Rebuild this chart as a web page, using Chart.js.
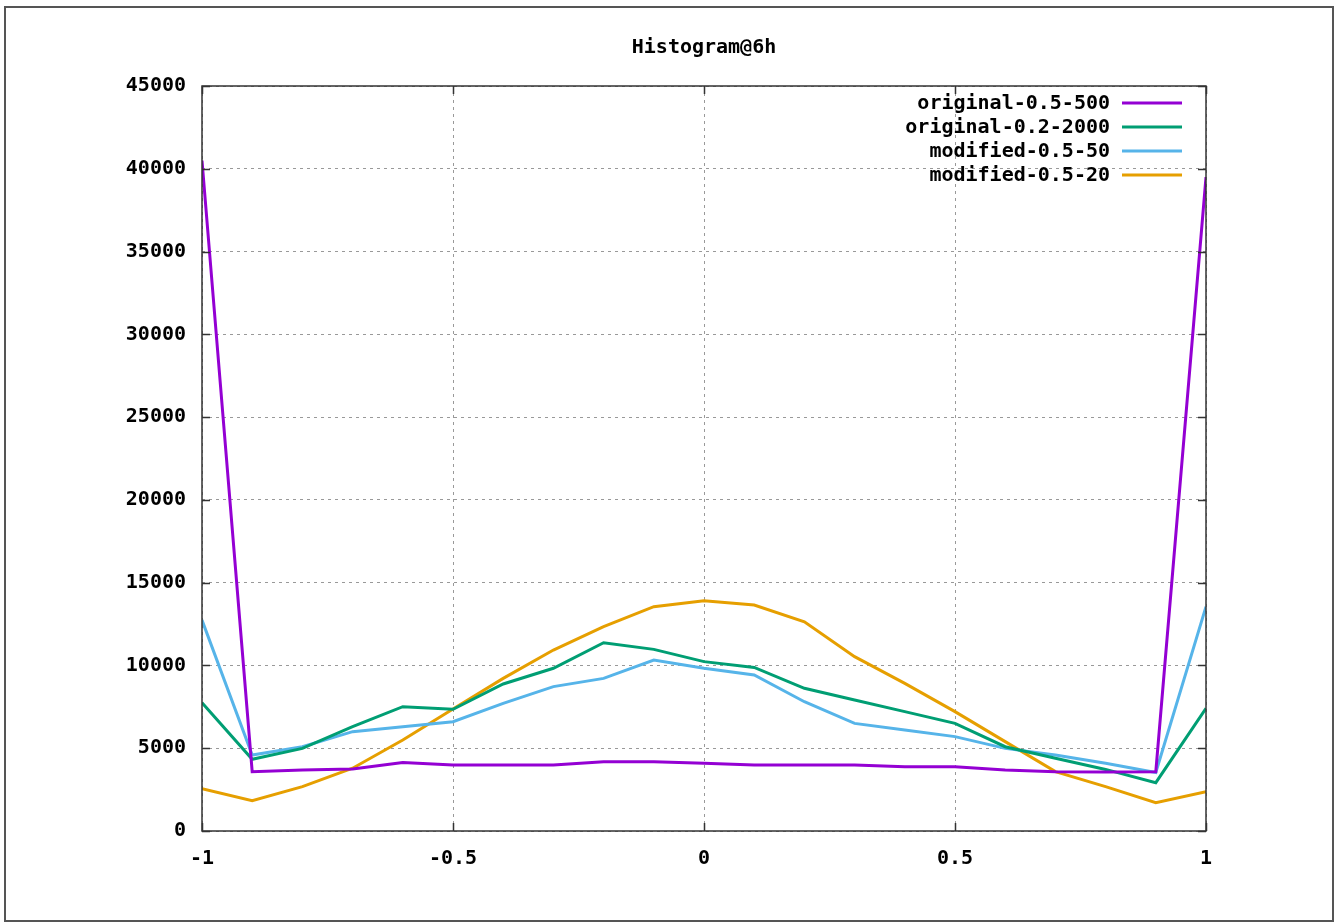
<!DOCTYPE html>
<html>
<head>
<meta charset="utf-8">
<script src="https://cdn.jsdelivr.net/npm/chart.js@4"></script>
<style>
  html, body { margin: 0; padding: 0; background: #fff; }
  #wrap { width: 1335px; height: 923px; }
</style>
</head>
<body>
<div id="wrap"><canvas id="histChart" width="1335" height="923"></canvas></div>
<script>
const xs = [-1, -0.9, -0.8, -0.7, -0.6, -0.5, -0.4, -0.3, -0.2, -0.1, 0, 0.1, 0.2, 0.3, 0.4, 0.5, 0.6, 0.7, 0.8, 0.9, 1];

const original05_500 = [40500, 3580, 3680, 3740, 4130, 3990, 3990, 3990, 4190, 4190, 4090, 3990, 3990, 3990, 3880, 3880, 3680, 3580, 3570, 3580, 39500];
const original02_2000 = [7750, 4330, 4990, 6300, 7510, 7350, 8880, 9830, 11370, 10970, 10230, 9880, 8620, 7910, 7210, 6500, 5090, 4390, 3720, 2920, 7410];
const modified05_50 = [12740, 4590, 5090, 6000, 6300, 6600, 7710, 8720, 9220, 10330, 9830, 9420, 7810, 6500, 6100, 5700, 4990, 4590, 4090, 3530, 13550];
const modified05_20 = [2560, 1830, 2680, 3790, 5500, 7370, 9220, 10930, 12340, 13550, 13910, 13650, 12640, 10530, 8920, 7210, 5400, 3590, 2680, 1710, 2380];

const seriesNames = ['original-0.5-500', 'original-0.2-2000', 'modified-0.5-50', 'modified-0.5-20'];
const seriesColors = ['#9400d3', '#009e73', '#56b4e9', '#e69f00'];
const xTicks = [-1, -0.5, 0, 0.5, 1];

const FONT = '"DejaVu Sans Mono", "Liberation Mono", monospace';

function pts(vals) {
  return xs.map((x, i) => ({ x: x, y: vals[i] }));
}

const gnuplotDecor = {
  id: 'gnuplotDecor',
  beforeDraw(chart) {
    const c = chart.ctx;
    c.save();
    c.fillStyle = '#fff';
    c.fillRect(0, 0, chart.width, chart.height);
    c.strokeStyle = '#555';
    c.lineWidth = 2;
    c.strokeRect(5, 7, chart.width - 7, chart.height - 9);
    c.restore();
  },
  afterDatasetsDraw(chart) {
    const c = chart.ctx;
    const a = chart.chartArea;
    const xS = chart.scales.x, yS = chart.scales.y;
    c.save();
    // border box
    c.strokeStyle = '#333';
    c.lineWidth = 1.5;
    c.strokeRect(a.left, a.top, a.right - a.left, a.bottom - a.top);
    // inward ticks, mirrored
    c.beginPath();
    xTicks.forEach(v => {
      const px = Math.round(xS.getPixelForValue(v)) + 0.5;
      c.moveTo(px, a.bottom); c.lineTo(px, a.bottom - 8);
      c.moveTo(px, a.top); c.lineTo(px, a.top + 8);
    });
    yS.ticks.forEach(t => {
      const py = Math.round(yS.getPixelForValue(t.value)) + 0.5;
      c.moveTo(a.left, py); c.lineTo(a.left + 8, py);
      c.moveTo(a.right, py); c.lineTo(a.right - 8, py);
    });
    c.stroke();
    // title
    c.fillStyle = '#000';
    c.font = 'bold 20px ' + FONT;
    c.textAlign = 'center';
    c.textBaseline = 'middle';
    c.fillText('Histogram@6h', (a.left + a.right) / 2, 48);
    // legend, gnuplot style: text right aligned, sample line on the right
    c.font = 'bold 20px ' + FONT;
    c.textAlign = 'right';
    chart.data.datasets.forEach((ds, i) => {
      const y = 103 + i * 24;
      c.fillStyle = '#000';
      c.fillText(ds.label, 1110, y + 1);
      c.strokeStyle = ds.borderColor;
      c.lineWidth = 3;
      c.beginPath();
      c.moveTo(1122, y); c.lineTo(1182, y);
      c.stroke();
    });
    c.restore();
  }
};

new Chart(document.getElementById('histChart'), {
  type: 'line',
  data: {
    datasets: [
      { label: seriesNames[0], data: pts(original05_500), borderColor: seriesColors[0] },
      { label: seriesNames[1], data: pts(original02_2000), borderColor: seriesColors[1] },
      { label: seriesNames[2], data: pts(modified05_50), borderColor: seriesColors[2] },
      { label: seriesNames[3], data: pts(modified05_20), borderColor: seriesColors[3] },
    ].map(d => ({ ...d, borderWidth: 3, pointRadius: 0, tension: 0, fill: false })),
  },
  options: {
    responsive: false,
    animation: false,
    layout: { padding: { top: 86, right: 129, left: 0, bottom: 0 } },
    plugins: { legend: { display: false }, tooltip: { enabled: false }, title: { display: false } },
    scales: {
      x: {
        type: 'linear', min: -1, max: 1,
        afterBuildTicks(scale) { scale.ticks = xTicks.map(v => ({ value: v })); },
        afterFit(scale) { scale.height = 92; },
        ticks: {
          color: '#000', padding: 16,
          font: { family: FONT, size: 20, weight: 'bold' },
          callback: v => String(v),
        },
        grid: { color: '#999', lineWidth: 1, drawTicks: false },
        border: { display: false, dash: [3, 4] },
      },
      y: {
        min: 0, max: 45000,
        afterFit(scale) { scale.width = 202; },
        ticks: {
          stepSize: 5000, color: '#000', padding: 16,
          font: { family: FONT, size: 20, weight: 'bold' },
          callback: v => String(v),
        },
        grid: { color: '#999', lineWidth: 1, drawTicks: false },
        border: { display: false, dash: [3, 4] },
      },
    },
  },
  plugins: [gnuplotDecor],
});
</script>
</body>
</html>
